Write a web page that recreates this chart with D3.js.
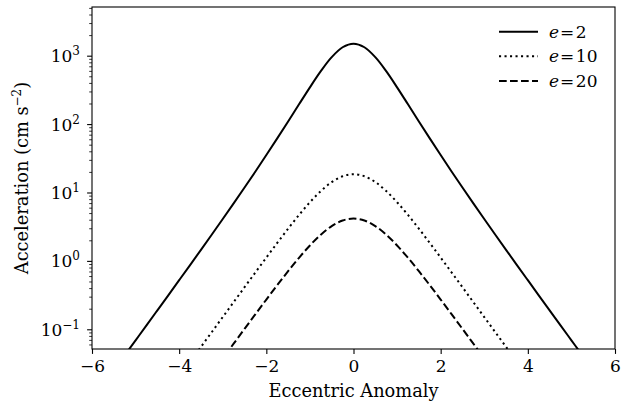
<!DOCTYPE html>
<html>
<head>
<meta charset="utf-8">
<script src="https://cdn.jsdelivr.net/npm/d3@7"></script>
<style>
  body { margin: 0; background: #fff; }
  text { font-family: "DejaVu Serif", serif; fill: #000; }
</style>
</head>
<body>
<script>
// eccentric anomaly samples
var anomaly = [-5.5, -5.25, -5, -4.75, -4.5, -4.25, -4, -3.75, -3.5, -3.25, -3, -2.75, -2.5, -2.25, -2, -1.75, -1.5, -1.25, -1, -0.75, -0.5, -0.25,
               0, 0.25, 0.5, 0.75, 1, 1.25, 1.5, 1.75, 2, 2.25, 2.5, 2.75, 3, 3.25, 3.5, 3.75, 4, 4.25, 4.5, 4.75, 5, 5.25, 5.5];

// acceleration (cm s^-2)
var accE2 = [0.0253, 0.0417, 0.0690, 0.1142, 0.1893, 0.314, 0.522, 0.869, 1.452, 2.433, 4.097, 6.935, 11.82, 20.31, 35.24, 61.76, 109.3, 194.5, 344.7, 594, 952, 1328,
             1500, 1328, 952, 594, 344.7, 194.5, 109.3, 61.76, 35.24, 20.31, 11.82, 6.935, 4.097, 2.433, 1.452, 0.869, 0.522, 0.314, 0.1893, 0.1142, 0.0690, 0.0417, 0.0253];
var accE10 = [null, null, null, null, null, null, 0.0203, 0.0335, 0.0553, 0.0913, 0.1510, 0.2495, 0.4122, 0.680, 1.118, 1.828, 2.957, 4.690, 7.203, 10.51, 14.20, 17.29,
              18.52, 17.29, 14.20, 10.51, 7.203, 4.690, 2.957, 1.828, 1.118, 0.680, 0.4122, 0.2495, 0.1510, 0.0913, 0.0553, 0.0335, 0.0203, null, null, null, null, null, null];
var accE20 = [null, null, null, null, null, null, null, null, null, 0.0227, 0.0374, 0.0616, 0.1014, 0.1664, 0.2721, 0.4416, 0.7074, 1.110, 1.682, 2.420, 3.229, 3.893,
              4.155, 3.893, 3.229, 2.420, 1.682, 1.110, 0.7074, 0.4416, 0.2721, 0.1664, 0.1014, 0.0616, 0.0374, 0.0227, null, null, null, null, null, null, null, null, null];

var seriesLabels = ["2", "10", "20"];
var xTicks = [-6, -4, -2, 0, 2, 4, 6];
var yTicks = [0.1, 1, 10, 100, 1000];
var yTickExp = ["\u22121", "0", "1", "2", "3"];

var w = 634, h = 401;
var pLeft = 92, pTop = 7, pRight = 615, pBottom = 349;
var tickFs = 17, labelFs = 17.8, supFs = 12;

var svg = d3.select("body").append("svg")
  .attr("width", w)
  .attr("height", h);

var x = d3.scaleLinear().domain([-6, 6]).range([pLeft, pRight]);
var y = d3.scaleLog().domain([0.0515, 5150]).range([pBottom, pTop]);

svg.append("clipPath").attr("id", "clip")
  .append("rect")
  .attr("x", pLeft).attr("y", pTop)
  .attr("width", pRight - pLeft).attr("height", pBottom - pTop);

var dashes = [null, "2.1,3.4", "7.7,3.3"];
var allSeries = [accE2, accE10, accE20];

var line = d3.line()
  .defined(function (d) { return d[1] != null; })
  .x(function (d) { return x(d[0]); })
  .y(function (d) { return y(d[1]); })
  .curve(d3.curveCatmullRom);

var plot = svg.append("g").attr("clip-path", "url(#clip)");
allSeries.forEach(function (vals, i) {
  plot.append("path")
    .datum(anomaly.map(function (a, j) { return [a, vals[j]]; }))
    .attr("d", line)
    .attr("fill", "none")
    .attr("stroke", "#000")
    .attr("stroke-width", 2)
    .attr("stroke-dasharray", dashes[i]);
});

// x axis
var xAxis = d3.axisBottom(x)
  .tickValues(xTicks)
  .tickSize(4.9)
  .tickSizeOuter(0)
  .tickPadding(6.5)
  .tickFormat(function (d) { return d < 0 ? "\u2212" + Math.abs(d) : d; });

var gx = svg.append("g")
  .attr("transform", "translate(0," + pBottom + ")")
  .call(xAxis);
gx.attr("font-size", null).attr("font-family", null);
gx.select(".domain").remove();
gx.selectAll("line").attr("stroke-width", 1.1);
gx.selectAll("text").style("font-size", tickFs + "px");

// y axis, minor ticks
var minor = y.ticks().filter(function (v) {
  return Math.abs(Math.log10(v) - Math.round(Math.log10(v))) > 1e-6;
});
var gyMinor = svg.append("g")
  .attr("transform", "translate(" + pLeft + ",0)")
  .call(d3.axisLeft(y).tickValues(minor).tickSize(2.8).tickSizeOuter(0).tickFormat(""));
gyMinor.select(".domain").remove();
gyMinor.selectAll("line").attr("stroke-width", 0.8);

// y axis, major ticks
var gy = svg.append("g")
  .attr("transform", "translate(" + pLeft + ",0)")
  .call(d3.axisLeft(y).tickValues(yTicks).tickSize(4.9).tickSizeOuter(0).tickFormat(""));
gy.attr("font-size", null).attr("font-family", null);
gy.select(".domain").remove();
gy.selectAll("line").attr("stroke-width", 1.1);
gy.selectAll(".tick").each(function (d, i) {
  var t = d3.select(this).append("text")
    .attr("x", -12)
    .attr("y", 6)
    .attr("text-anchor", "end")
    .style("font-size", tickFs + "px");
  t.append("tspan").text("10");
  t.append("tspan").attr("dy", -7).style("font-size", supFs + "px").text(yTickExp[i]);
});

// spines
svg.append("rect")
  .attr("x", pLeft).attr("y", pTop)
  .attr("width", pRight - pLeft).attr("height", pBottom - pTop)
  .attr("fill", "none")
  .attr("stroke", "#000")
  .attr("stroke-width", 1.1);

// axis labels
svg.append("text")
  .attr("x", (pLeft + pRight) / 2)
  .attr("y", 396.5)
  .attr("text-anchor", "middle")
  .style("font-size", labelFs + "px")
  .text("Eccentric Anomaly");

var yl = svg.append("text")
  .attr("transform", "translate(28," + (pTop + pBottom) / 2 + ") rotate(-90)")
  .attr("text-anchor", "middle")
  .style("font-size", labelFs + "px");
yl.append("tspan").text("Acceleration (cm s");
yl.append("tspan").attr("dy", -7).style("font-size", supFs + "px").text("\u22122");
yl.append("tspan").attr("dy", 7).text(")");

// legend
var legend = svg.append("g");
seriesLabels.forEach(function (lab, i) {
  var ly = 31.7 + i * 24.6;
  legend.append("line")
    .attr("x1", 499).attr("x2", 538)
    .attr("y1", ly).attr("y2", ly)
    .attr("stroke", "#000")
    .attr("stroke-width", 2)
    .attr("stroke-dasharray", dashes[i]);
  var t = legend.append("text")
    .attr("x", 549)
    .attr("y", ly + 6)
    .style("font-size", tickFs + "px");
  t.append("tspan").attr("font-style", "italic").text("e");
  t.append("tspan").attr("dx", 1).text("=");
  t.append("tspan").attr("dx", 1.5).text(lab);
});
</script>
</body>
</html>
